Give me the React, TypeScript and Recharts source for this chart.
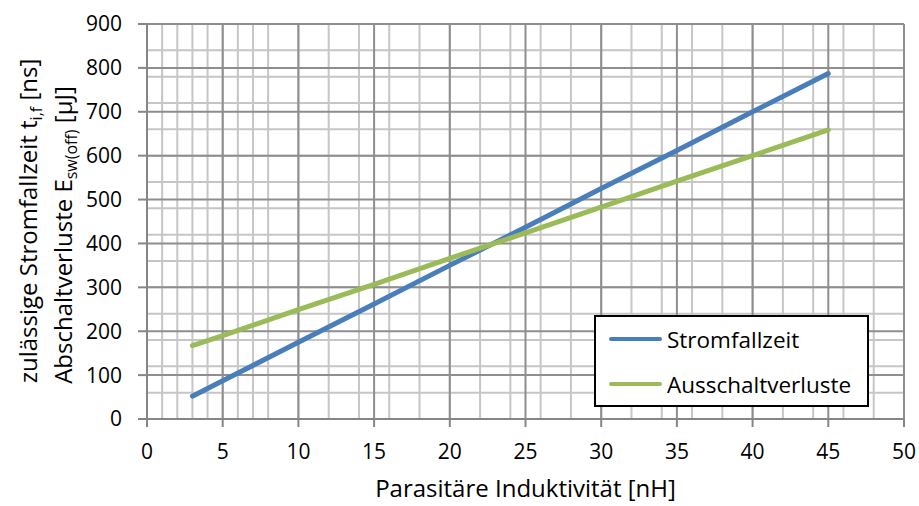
import React from 'react';
import { LineChart, Line, XAxis, YAxis, CartesianGrid, Legend } from 'recharts';

// Parasitäre Induktivität [nH]
const inductance = [3, 5, 10, 15, 20, 25, 30, 35, 40, 45];
// zulässige Stromfallzeit t_i,f [ns]
const fallTime = [52, 87, 175, 262, 350, 437, 525, 612, 700, 787];
// Abschaltverluste E_sw(off) [µJ]
const switchLoss = [167, 190, 249, 307, 366, 424, 483, 542, 600, 659];

const xTicks = [0, 5, 10, 15, 20, 25, 30, 35, 40, 45, 50];
const yTicks = [0, 100, 200, 300, 400, 500, 600, 700, 800, 900];
const xMinor = Array.from({ length: 51 }, (_, i) => i);
const yMinor = Array.from({ length: 46 }, (_, i) => i * 20);

const seriesNames = ['Stromfallzeit', 'Ausschaltverluste'];
const seriesColors = ['#4a7ebb', '#9bbb59'];

const data = inductance.map((x, i) => ({ x, t: fallTime[i], e: switchLoss[i] }));

const FONT = '"Open Sans", sans-serif';
const AXIS = '#868686';

const YTitle = () => (
  <g fontFamily={FONT} fill="#000">
    <text x={37} y={221} transform="rotate(-90, 37, 221)" textAnchor="middle" fontSize={24}>
      zulässige Stromfallzeit t
      <tspan fontSize={16} dy={5}>i,f</tspan>
      <tspan dy={-5}> [ns]</tspan>
    </text>
    <text x={72} y={235} transform="rotate(-90, 72, 235)" textAnchor="middle" fontSize={24}>
      Abschaltverluste E
      <tspan fontSize={16} dy={5}>sw(off)</tspan>
      <tspan dy={-5}> [µJ]</tspan>
    </text>
  </g>
);

const LegendBox = () => (
  <div
    style={{
      width: 275,
      height: 92,
      boxSizing: 'border-box',
      border: '2px solid #000',
      background: '#fff',
      fontFamily: FONT,
      fontSize: 22.5,
      position: 'relative',
    }}
  >
    {seriesNames.map((name, i) => (
      <div
        key={name}
        style={{ position: 'absolute', left: 13, top: 5 + i * 45, height: 34, display: 'flex', alignItems: 'center' }}
      >
        <div style={{ width: 53, height: 4, borderRadius: 2, background: seriesColors[i], marginRight: 5 }} />
        <span>{name}</span>
      </div>
    ))}
  </div>
);

export default function App() {
  return (
    <div style={{ position: 'absolute', left: 0, top: 0, width: 919, height: 506, background: '#fff' }}>
      <LineChart width={919} height={506} data={data} margin={{ top: 24, right: 15, bottom: 47, left: 87 }}>
        <CartesianGrid verticalValues={xMinor} horizontalValues={yMinor} stroke="#c6c6c6" strokeWidth={2} />
        <CartesianGrid verticalValues={xTicks} horizontalValues={yTicks} stroke="#8e8e8e" strokeWidth={2} />
        <XAxis
          dataKey="x"
          type="number"
          domain={[0, 50]}
          ticks={xTicks}
          height={40}
          stroke={AXIS}
          strokeWidth={2}
          tickSize={8}
          tickMargin={17}
          tick={{ fill: '#000', fontSize: 21, fontFamily: FONT }}
          label={{ value: 'Parasitäre Induktivität [nH]', position: 'insideBottom', offset: -38, fill: '#000', fontSize: 24, fontFamily: FONT }}
        />
        <YAxis
          type="number"
          domain={[0, 900]}
          ticks={yTicks}
          width={60}
          stroke={AXIS}
          strokeWidth={2}
          tickSize={9}
          tickMargin={16}
          tick={{ fill: '#000', fontSize: 21, fontFamily: FONT }}
          label={() => <YTitle />}
        />
        <Legend
          layout="vertical"
          align="center"
          verticalAlign="middle"
          content={() => <LegendBox />}
          wrapperStyle={{ left: 594, top: 315, width: 275, height: 92 }}
        />
        <Line
          dataKey="t"
          name={seriesNames[0]}
          stroke={seriesColors[0]}
          strokeWidth={5}
          strokeLinecap="round"
          dot={false}
          isAnimationActive={false}
        />
        <Line
          dataKey="e"
          name={seriesNames[1]}
          stroke={seriesColors[1]}
          strokeWidth={5}
          strokeLinecap="round"
          dot={false}
          isAnimationActive={false}
        />
      </LineChart>
    </div>
  );
}
